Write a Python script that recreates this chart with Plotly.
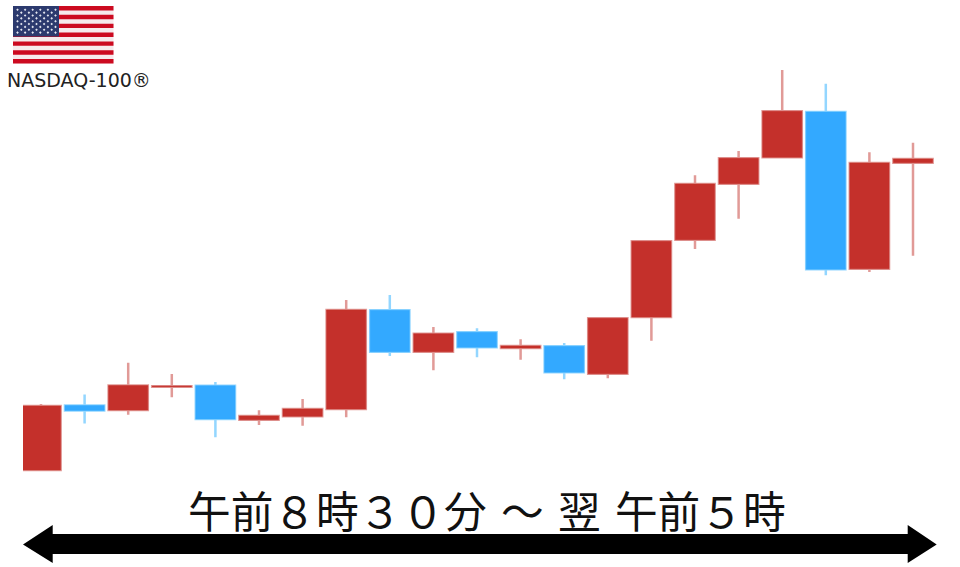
import plotly.graph_objects as go

W, H = 960, 567

# Candles (values on a 0-567 scale)
session = list(range(21))
opens  = [97, 161.5, 157, 180.3, 181.3, 147.3, 150.7, 158, 256.7, 215.3, 234.7, 219, 220.7, 193.3, 250, 327.3, 383.3, 409.7, 455, 298.3, 404.3]
closes = [161, 156.5, 181.5, 180.7, 148, 151, 158, 257, 215.3, 233.3, 219.7, 221, 194.7, 248.7, 325.7, 383, 408.7, 455.7, 297.7, 404, 408]
highs  = [163, 172.5, 204.3, 193, 185, 156.7, 168, 267, 272, 240, 238.7, 227.7, 224, 249.7, 326.7, 391.7, 416, 497, 483.3, 414.7, 424.3]
lows   = [97, 143.5, 152.3, 169.7, 129.7, 142, 141.3, 149.7, 211, 196.7, 209.7, 207.3, 187.7, 188.7, 226.3, 318, 348.3, 409.7, 291.7, 295, 311.3]

INDEX_LABEL = "NASDAQ-100®"
HOURS_LABEL = "午前８時３０分\u2004～\u2004翌\u2004午前５時"

RED, RED_WICK = "#c4302b", "#e19a97"
BLUE, BLUE_PALE = "#33a9ff", "#93d6ff"


def px(x):
    return x / W


def py(y):
    return 1 - y / H


def paper_rect(x0, y0, x1, y1, colour):
    return dict(type="rect", xref="paper", yref="paper", x0=px(x0), x1=px(x1),
                y0=py(y1), y1=py(y0), fillcolor=colour, line_width=0, layer="below")


def paper_path(points):
    return "M " + " L ".join(f"{px(x):.5f},{py(y):.5f}" for x, y in points) + " Z"


body_hi = [max(o, c) for o, c in zip(opens, closes)]
body_lo = [min(o, c) for o, c in zip(opens, closes)]

fig = go.Figure()
# Pale wicks and halo
fig.add_trace(go.Candlestick(
    x=session, open=opens, high=highs, low=lows, close=closes,
    increasing=dict(fillcolor=RED, line=dict(color=RED_WICK, width=2.5)),
    decreasing=dict(fillcolor=BLUE, line=dict(color=BLUE_PALE, width=2.5)),
    whiskerwidth=0, showlegend=False, hoverinfo="skip",
))
# Solid bodies on top
fig.add_trace(go.Candlestick(
    x=session, open=opens, high=body_hi, low=body_lo, close=closes,
    increasing=dict(fillcolor=RED, line=dict(color=RED, width=0.5)),
    decreasing=dict(fillcolor=BLUE, line=dict(color=BLUE, width=0.5)),
    whiskerwidth=0, showlegend=False, hoverinfo="skip",
))

# Flag
shapes = [paper_rect(13, 6, 113.5, 63.5, "#f6eaec")]
stripe = (63.5 - 6) / 13
for i in range(0, 13, 2):
    shapes.append(paper_rect(13, 6 + i * stripe, 113.5, 6 + (i + 1) * stripe, "#cc0a20"))
shapes.append(paper_rect(13, 6, 59, 36.5, "#2c3a6e"))

star_path = []
for row in range(9):
    count = 6 if row % 2 == 0 else 5
    offset = 0 if row % 2 == 0 else 3.8
    for col in range(count):
        cx, cy = 17.5 + offset + col * 7.6, 9.8 + row * 2.85
        star_path.append(paper_path([(cx - 1.3, cy), (cx, cy - 1.3), (cx + 1.3, cy), (cx, cy + 1.3)]))
shapes.append(dict(type="path", xref="paper", yref="paper", path=" ".join(star_path),
                   fillcolor="#e4e7f0", line_width=0, layer="below"))

# Double-headed time arrow
pts = [(23, 544.5), (52.7, 525), (52.7, 534), (907.7, 534), (907.7, 525), (936.7, 544.5),
       (907.7, 563), (907.7, 554), (52.7, 554), (52.7, 563)]
shapes.append(dict(type="path", xref="paper", yref="paper", path=paper_path(pts),
                   fillcolor="#000000", line_width=0, layer="above"))

fig.update_layout(
    width=W, height=H, autosize=False,
    margin=dict(l=0, r=0, t=0, b=0),
    paper_bgcolor="#ffffff", plot_bgcolor="rgba(0,0,0,0)",
    boxgap=0.1, boxgroupgap=0,
    xaxis=dict(domain=[px(23), px(940)], range=[(23 - 41) / 43.6, (940 - 41) / 43.6],
               visible=False, rangeslider=dict(visible=False), fixedrange=True),
    yaxis=dict(domain=[0, 1], range=[0, H], visible=False, fixedrange=True),
    shapes=shapes,
    annotations=[
        dict(text=INDEX_LABEL, xref="paper", yref="paper", x=px(5), y=py(80),
             xanchor="left", yanchor="middle", showarrow=False,
             font=dict(family="DejaVu Sans", size=19, color="#222222")),
        dict(text=HOURS_LABEL, xref="paper", yref="paper", x=px(487), y=py(509),
             xanchor="center", yanchor="middle", showarrow=False,
             font=dict(family="Noto Sans CJK JP", size=42.7, color="#111111")),
    ],
)
fig.write_html("out.html", config=dict(displayModeBar=False),
               post_script="document.body.style.margin='0';")
